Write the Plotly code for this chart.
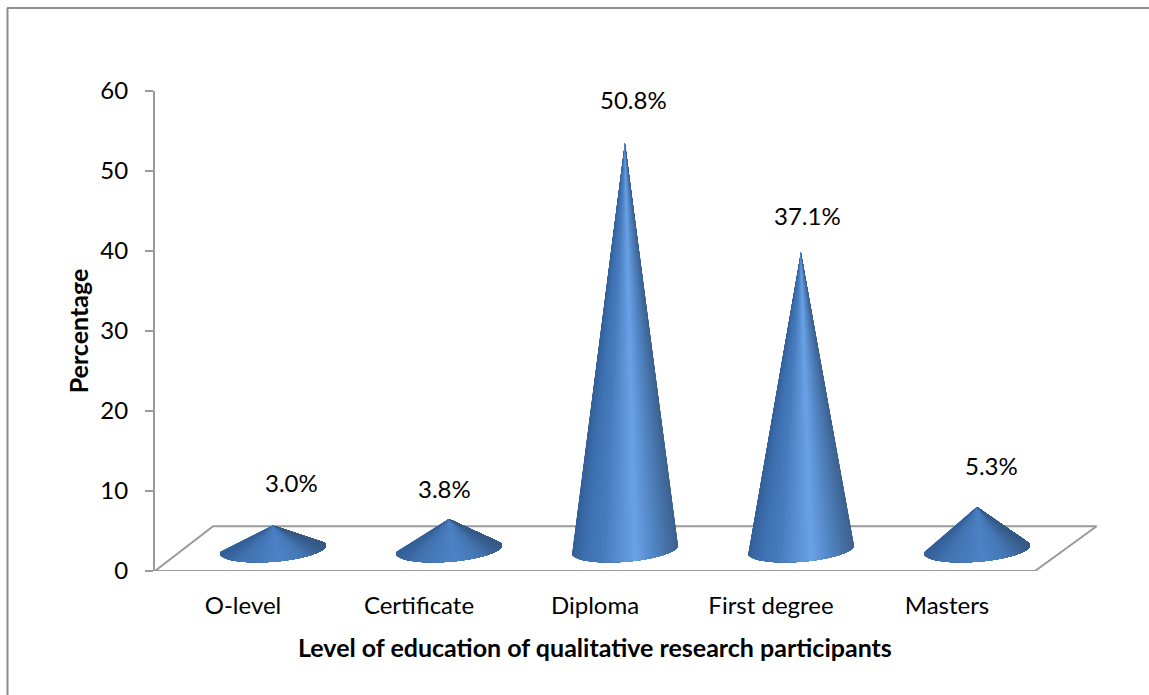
import math
import plotly.graph_objects as go

# Education levels and their share of participants (percent)
categories = ["O-level", "Certificate", "Diploma", "First degree", "Masters"]
values = [3.0, 3.8, 50.8, 37.1, 5.3]
x_title = "Level of education of qualitative research participants"
y_title = "Percentage"

# Hand-placed label offsets from each cone tip, in pixels
label_dx = [19, -4, 9, 7, 15]
label_dy = [-43, -31, -44, -37, -42]

# Pseudo-3D geometry, in axis units
DEPTH_X = 0.17        # sideways shift of the cones towards the back of the floor
DEPTH_Y = 2.7         # upward shift of the cone base centre
FLOOR_BACK_X = 0.33   # how far the floor's back edge leans right
FLOOR_BACK_Y = 5.6
BASE_A = 0.301        # horizontal base radius
BASE_B = 1.55         # front bulge of the base ellipse
BASE_TILT = 0.5       # left side of the ellipse sits lower than the right
ARC_WRAP = 0.25       # radians the base outline wraps past its side extremes
WEDGES = 80

GREY = "#9a9a9a"
FRAME_GREY = "#8e8e8e"
FONT = "Lato, Carlito, sans-serif"
LABEL_SIZE = 24
TITLE_SIZE = 25

# Shading across a cone, from left edge to right edge
shade_stops = [
    (0.00, (52, 96, 152)),
    (0.12, (62, 112, 176)),
    (0.30, (72, 124, 190)),
    (0.60, (106, 162, 230)),
    (0.78, (82, 132, 194)),
    (1.00, (60, 98, 144)),
]
flat_stops = [
    (0.00, (52, 96, 152)),
    (0.18, (66, 114, 176)),
    (0.55, (76, 130, 198)),
    (0.78, (70, 120, 182)),
    (1.00, (54, 90, 134)),
]


def shade(f, stops):
    for (a, ca), (b, cb) in zip(stops, stops[1:]):
        if f <= b:
            k = (f - a) / (b - a)
            return "rgb({},{},{})".format(*(round(p + (q - p) * k) for p, q in zip(ca, cb)))
    return "rgb({},{},{})".format(*stops[-1][1])


def base_point(cx, t):
    x = cx + BASE_A * math.cos(t)
    y = DEPTH_Y + BASE_TILT * math.cos(t) + BASE_B * math.sin(t)
    return x, y


fig = go.Figure()

# Floor parallelogram (not clipped so its front edge keeps full width at y=0)
x_min, x_max = -0.5, 4.5
fig.add_trace(go.Scatter(
    x=[x_min, x_max, x_max + FLOOR_BACK_X + 0.02, x_min + FLOOR_BACK_X, x_min],
    y=[0, 0, FLOOR_BACK_Y, FLOOR_BACK_Y, 0],
    mode="lines",
    line=dict(color=GREY, width=2),
    cliponaxis=False,
    hoverinfo="skip",
    showlegend=False,
))

# Each cone is painted left to right: every wedge runs from the tip to the
# rest of the front arc, so the next wedge overlaps it and no seams show.
t_first = math.pi - ARC_WRAP
t_last = 2 * math.pi + ARC_WRAP
for i, v in enumerate(values):
    cx = i + DEPTH_X
    tip_y = v + DEPTH_Y
    stops = shade_stops if v > 10 else flat_stops
    for w in range(WEDGES):
        t_start = t_first + (t_last - t_first) * w / WEDGES
        steps = WEDGES - w
        arc = [base_point(cx, t_start + (t_last - t_start) * k / steps)
               for k in range(steps + 1)]
        xs = [cx] + [p[0] for p in arc] + [cx]
        ys = [tip_y] + [p[1] for p in arc] + [tip_y]
        t_mid = min(max(t_start + (t_last - t_first) / WEDGES / 2, math.pi), 2 * math.pi)
        frac = (1 + math.cos(t_mid)) / 2
        fig.add_trace(go.Scatter(
            x=xs, y=ys,
            mode="lines",
            fill="toself",
            fillcolor=shade(frac, stops),
            line=dict(width=0),
            hoverinfo="skip",
            showlegend=False,
        ))
    fig.add_annotation(
        x=cx, y=tip_y,
        text=f"{v:.1f}%",
        showarrow=False,
        xshift=label_dx[i], yshift=-label_dy[i],
        font=dict(family=FONT, size=LABEL_SIZE, color="#000000"),
    )

# Horizontal axis title, centred under the categories rather than the wider plot area
fig.add_annotation(
    x=(len(categories) - 1) / 2,
    xref="x",
    y=(571 - 647) / 480,
    yref="paper",
    yanchor="middle",
    text=f"<b>{x_title}</b>",
    showarrow=False,
    font=dict(family=FONT, size=TITLE_SIZE, color="#000000"),
)

fig.update_layout(
    width=1149,
    height=695,
    autosize=False,
    margin=dict(l=155, r=26, t=91, b=124),
    paper_bgcolor="white",
    plot_bgcolor="white",
    font=dict(family=FONT, size=LABEL_SIZE, color="#000000"),
    xaxis=dict(
        range=[-0.5, 5.0],
        tickmode="array",
        tickvals=list(range(len(categories))),
        ticktext=categories,
        showgrid=False,
        showline=False,
        zeroline=False,
        ticks="",
        ticklabelstandoff=18,
        automargin=False,
    ),
    yaxis=dict(
        range=[0, 60],
        tickvals=[0, 10, 20, 30, 40, 50, 60],
        showgrid=False,
        zeroline=False,
        showline=True,
        linecolor=GREY,
        linewidth=2,
        ticks="outside",
        ticklen=8,
        tickwidth=2,
        tickcolor=GREY,
        ticklabelstandoff=12,
        title=dict(
            text=f"<b>{y_title}</b>",
            font=dict(family=FONT, size=TITLE_SIZE),
            standoff=5,
        ),
        automargin=False,
    ),
    # Outer chart frame, running off the page on the right and at the bottom
    shapes=[
        dict(type="line", xref="paper", yref="paper",
             x0=(7.5 - 155) / 968, x1=(7.5 - 155) / 968,
             y0=-124 / 480, y1=(571 - 8) / 480,
             line=dict(color=FRAME_GREY, width=2)),
        dict(type="line", xref="paper", yref="paper",
             x0=(7 - 155) / 968, x1=(1149 - 155) / 968,
             y0=(571 - 8) / 480, y1=(571 - 8) / 480,
             line=dict(color=FRAME_GREY, width=2)),
    ],
)

fig.write_html("out.html")
